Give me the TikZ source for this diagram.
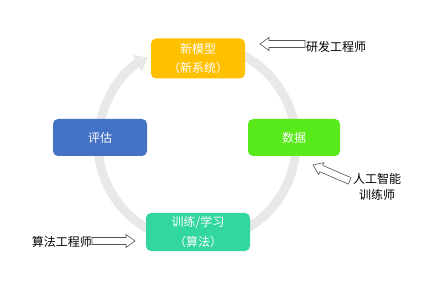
\documentclass[tikz,border=0pt]{standalone}
\usepackage{fontspec}
\setmainfont{Noto Sans CJK SC}
\usetikzlibrary{arrows.meta}
\definecolor{ringgray}{HTML}{E8E8E8}
\definecolor{cTop}{HTML}{FFC000}
\definecolor{cLeft}{HTML}{4472C4}
\definecolor{cRight}{HTML}{58EA1A}
\definecolor{cBottom}{HTML}{31D6A0}
\definecolor{outl}{HTML}{555555}
\newcommand{\hollowarrow}[4]{% tip x, tip y, canvas angle, length
  \begin{scope}[shift={(#1,#2)}, rotate=#3]
    \draw[barrow] (0,0) -- (-9,6.5) -- (-9,3.5) -- (-#4,3.5) -- (-#4,-3.5) -- (-9,-3.5) -- (-9,-6.5) -- cycle;
  \end{scope}}
\begin{document}
\begin{tikzpicture}[x=1pt,y=-1pt,
  box/.style={rounded corners=5pt, inner sep=0pt, text=white, align=center,
    font=\fontsize{12}{19.5}\selectfont},
  lbl/.style={inner sep=0pt, text=black, align=center,
    font=\fontsize{12}{16}\selectfont},
  barrow/.style={draw=outl, fill=white, line width=0.6pt, line join=miter},
  ring/.style={draw=ringgray, line width=9pt}]
\useasboundingbox (0,0) rectangle (423,283);
% cycle ring
\coordinate (c) at (197,143);
\draw[ring,-{Triangle[width=18pt,length=12pt]}] (c) ++(-80:99) arc[start angle=-80, end angle=240, radius=99];
% boxes
\node[box, fill=cTop, minimum width=94pt, minimum height=40pt] (model) at (198,58.5) {新模型\\（新系统）};
\node[box, fill=cLeft, minimum width=94pt, minimum height=37pt] (eval) at (100,137.5) {评估};
\node[box, fill=cRight, minimum width=92pt, minimum height=37pt] (data) at (294,137.5) {数据};
\node[box, fill=cBottom, minimum width=104pt, minimum height=38pt] (train) at (198,232) {训练/学习\\（算法）};
% labels and block arrows
\node[lbl, anchor=west] (rd) at (306,46.5) {研发工程师};
\hollowarrow{260}{44}{180}{45}
\node[lbl] (ai) at (377,187) {人工智能\\训练师};
\hollowarrow{313}{165}{156.6}{40}
\node[lbl, anchor=east] (alg) at (92,242) {算法工程师};
\hollowarrow{135}{241}{0}{43}
\end{tikzpicture}
\end{document}
